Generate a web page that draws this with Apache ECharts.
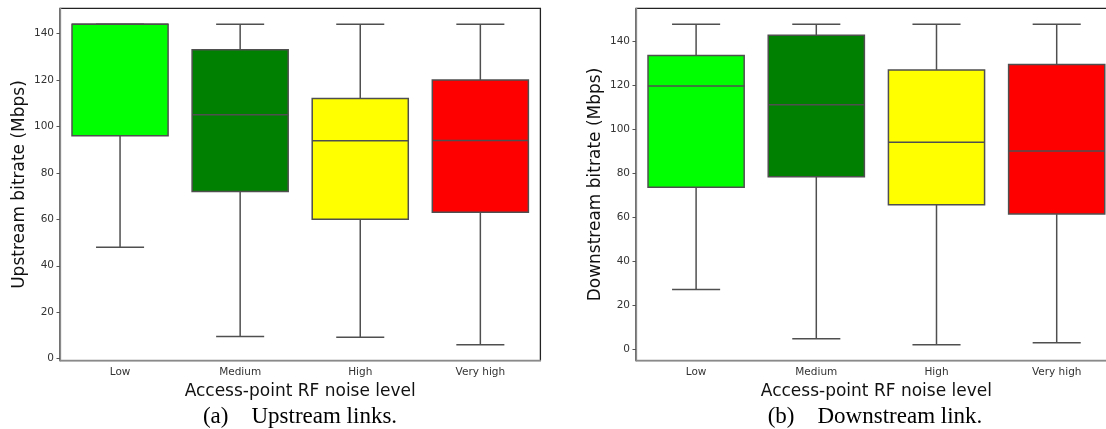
<!DOCTYPE html>
<html>
<head>
<meta charset="utf-8">
<script src="https://cdn.jsdelivr.net/npm/echarts@6/dist/echarts.min.js"></script>
<style>
html,body{margin:0;padding:0;background:#fff;overflow:hidden;width:1106px;height:429px;}
#chart{width:1120px;height:429px;}
</style>
</head>
<body>
<div id="chart"></div>
<script>
// ---- data ----
const categories = ['Low', 'Medium', 'High', 'Very high'];
// [lower whisker, Q1, median, Q3, upper whisker]
const upstreamStats = [
  [48, 96, 144, 144, 144],
  [9.5, 72, 105, 133, 144],
  [9.2, 60, 93.8, 112, 144],
  [6, 63, 94, 120, 144]
];
const downstreamStats = [
  [27, 73.5, 119.5, 133.3, 147.5],
  [4.7, 78.3, 111, 142.5, 147.5],
  [2, 65.5, 94, 126.8, 147.5],
  [2.8, 61.3, 90, 129.3, 147.5]
];
const yTicks = [0, 20, 40, 60, 80, 100, 120, 140];
const xTitle = 'Access-point RF noise level';
const yTitles = ['Upstream bitrate (Mbps)', 'Downstream bitrate (Mbps)'];
const captions = ['(a)    Upstream links.', '(b)    Downstream link.'];

// ---- styles ----
const boxColors = ['#00ff00', '#008000', '#ffff00', '#ff0000'];
const edge = '#4f4f4f';
const labelColor = '#333333';

function renderBox(params, api) {
  const x = api.value(0);
  const mn = api.value(1), q1 = api.value(2), md = api.value(3), q3 = api.value(4), mx = api.value(5);
  const band = api.size([1, 0])[0];
  const bw = band * 0.8, cw = band * 0.4;
  const pMin = api.coord([x, mn]), pQ1 = api.coord([x, q1]), pMd = api.coord([x, md]),
        pQ3 = api.coord([x, q3]), pMax = api.coord([x, mx]);
  const cx = pMd[0];
  const ls = { stroke: edge, lineWidth: 1.5 };
  return {
    type: 'group',
    children: [
      { type: 'line', shape: { x1: cx, y1: pQ1[1], x2: cx, y2: pMin[1] }, style: ls },
      { type: 'line', shape: { x1: cx, y1: pQ3[1], x2: cx, y2: pMax[1] }, style: ls },
      { type: 'line', shape: { x1: cx - cw / 2, y1: pMin[1], x2: cx + cw / 2, y2: pMin[1] }, style: ls },
      { type: 'line', shape: { x1: cx - cw / 2, y1: pMax[1], x2: cx + cw / 2, y2: pMax[1] }, style: ls },
      { type: 'rect', shape: { x: cx - bw / 2, y: pQ3[1], width: bw, height: pQ1[1] - pQ3[1] },
        style: { fill: boxColors[params.dataIndex], stroke: edge, lineWidth: 1.5 } },
      { type: 'line', shape: { x1: cx - bw / 2, y1: pMd[1], x2: cx + bw / 2, y2: pMd[1] }, style: ls }
    ]
  };
}

function toData(stats) {
  return stats.map((s, i) => [i].concat(s));
}

function xAxisCfg(idx) {
  return {
    type: 'category', gridIndex: idx, data: categories, boundaryGap: true,
    axisLine: { onZero: false, lineStyle: { color: '#8a8a8a', width: 1.3 } },
    axisTick: { alignWithLabel: true, length: 3.5, lineStyle: { color: '#555' } },
    axisLabel: { color: labelColor, fontFamily: 'DejaVu Sans', fontSize: 10.5, margin: 6 },
    name: xTitle, nameLocation: 'middle', nameGap: 21,
    nameTextStyle: { color: '#111', fontFamily: 'DejaVu Sans', fontSize: 17 }
  };
}
function yAxisCfg(idx, min, max) {
  return {
    type: 'value', gridIndex: idx, min: min, max: max,
    splitLine: { show: false },
    axisLine: { show: true, onZero: false, lineStyle: { color: '#8a8a8a', width: 1.3 } },
    axisTick: { show: true, length: 3.5, customValues: yTicks, lineStyle: { color: '#555' } },
    axisLabel: { color: labelColor, fontFamily: 'DejaVu Sans', fontSize: 10.5, margin: 6, customValues: yTicks },
    name: yTitles[idx], nameLocation: 'middle', nameGap: 32,
    nameTextStyle: { color: '#111', fontFamily: 'DejaVu Sans', fontSize: 17 }
  };
}

const chart = echarts.init(document.getElementById('chart'), null, { renderer: 'canvas' });
chart.setOption({
  backgroundColor: '#ffffff',
  animation: false,
  grid: [
    { left: 60, right: 579.6, top: 8.3, bottom: 68.3, show: true, borderColor: '#222', borderWidth: 1.3, backgroundColor: 'transparent' },
    { left: 636, right: 3.2, top: 8.3, bottom: 68.3, show: true, borderColor: '#222', borderWidth: 1.3, backgroundColor: 'transparent' }
  ],
  xAxis: [xAxisCfg(0), xAxisCfg(1)],
  yAxis: [yAxisCfg(0, -0.9, 150.9), yAxisCfg(1, -5.3, 154.8)],
  series: [
    { type: 'custom', xAxisIndex: 0, yAxisIndex: 0, data: toData(upstreamStats),
      encode: { x: 0, y: [1, 2, 3, 4, 5] }, renderItem: renderBox, clip: false },
    { type: 'custom', xAxisIndex: 1, yAxisIndex: 1, data: toData(downstreamStats),
      encode: { x: 0, y: [1, 2, 3, 4, 5] }, renderItem: renderBox, clip: false }
  ],
  graphic: [
    { type: 'text', x: 300, y: 417, style: { text: captions[0], fill: '#000', font: '23px "Liberation Serif"', align: 'center', verticalAlign: 'middle' } },
    { type: 'text', x: 875, y: 417, style: { text: captions[1], fill: '#000', font: '23px "Liberation Serif"', align: 'center', verticalAlign: 'middle' } }
  ]
});
</script>
</body>
</html>
